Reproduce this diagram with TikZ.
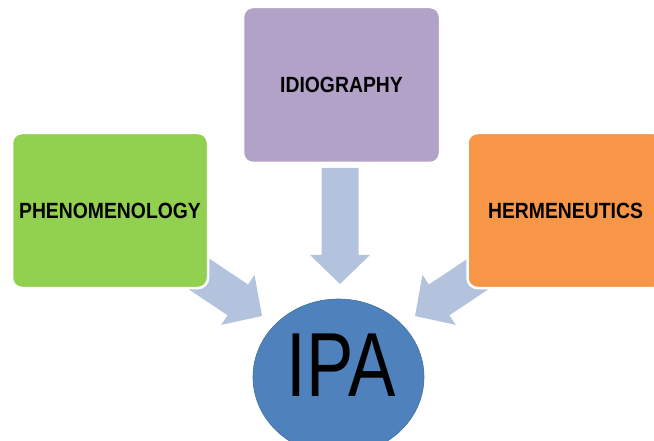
\documentclass[tikz,border=0pt]{standalone}
\usepackage{fontspec}
\setmainfont{Liberation Sans}
\newfontfamily\labfont[FakeStretch=0.88]{Liberation Sans}
\newfontfamily\ipafont[FakeStretch=0.78]{Liberation Sans}
\usetikzlibrary{shapes.geometric}
\definecolor{cgreen}{HTML}{92D050}
\definecolor{cpurple}{HTML}{B3A2C7}
\definecolor{corange}{HTML}{F79646}
\definecolor{cblue}{HTML}{4F81BD}
\definecolor{cblueline}{HTML}{41719C}
\definecolor{carrow}{HTML}{B3C3DE}
\tikzset{
  box/.style={draw=white, line width=2.5pt, rounded corners=10pt, inner sep=0pt,
    minimum width=196pt, minimum height=155pt,
    font=\labfont\bfseries\fontsize{22}{26}\selectfont},
  blockarrow/.style={fill=carrow, draw=none},
  pics/barrow/.style={code={
    \fill[blockarrow] (0,0) -- (-29,30) -- (-29,18.5) -- (-#1,18.5) -- (-#1,-18.5)
      -- (-29,-18.5) -- (-29,-30) -- cycle;
  }},
}
\begin{document}
\begin{tikzpicture}[x=1pt,y=-1pt]
\useasboundingbox (0,0) rectangle (654,441);
% block arrows (tip positions)
\coordinate (tipc) at (340,284);
\coordinate (tipl) at (262,316);
\coordinate (tipr) at (415,316);
\pic[rotate=-90] at (tipc) {barrow=116};
\pic[rotate=-33.7] at (tipl) {barrow=118};
\pic[rotate=-146.3] at (tipr) {barrow=118};
% boxes
\node[box, fill=cgreen] (phen) at (110,210.5) {PHENOMENOLOGY};
\node[box, fill=cpurple, minimum width=197pt, minimum height=156pt] (idio) at (341.5,85) {IDIOGRAPHY};
\node[box, fill=corange] (herm) at (565.5,210.5) {HERMENEUTICS};
% ellipse
\node[ellipse, fill=cblue, draw=cblueline, line width=0.6pt, inner sep=0pt,
  minimum width=171pt, minimum height=156pt] (ipa) at (338.5,377) {};
\node[font=\ipafont\fontsize{91}{91}\selectfont, inner sep=0pt] (ipatext) at (341,365.5) {IPA};
\end{tikzpicture}
\end{document}
